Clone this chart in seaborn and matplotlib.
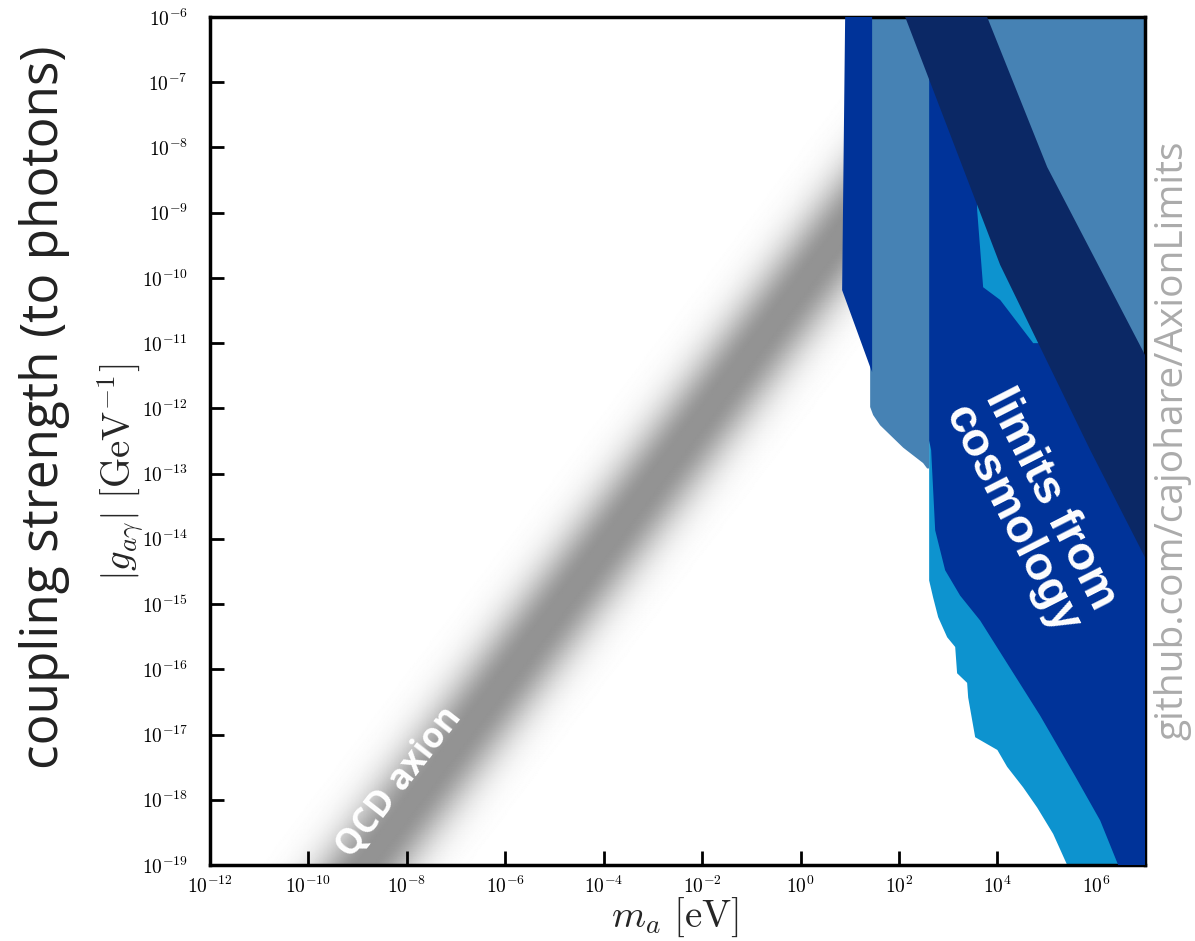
import numpy as np
import matplotlib
matplotlib.use("Agg")
import matplotlib.pyplot as plt
from matplotlib.colors import LinearSegmentedColormap
from matplotlib.ticker import FixedLocator, FuncFormatter, NullLocator
import seaborn as sns

sns.set_theme(style="white")
plt.rcParams["font.family"] = ["Open Sans", "DejaVu Sans"]
plt.rcParams["mathtext.fontset"] = "cm"

# plot ranges
m_min, m_max = 1e-12, 1e7        # axion mass [eV]
g_min, g_max = 1e-19, 1e-6       # |g_a gamma| [GeV^-1]

# QCD axion line g = C * m, with a soft band around it (widths in decades)
qcd_coeff = 7.1e-11
qcd_core = 0.12
qcd_soft = 0.62

# lower-lying region (light blue)
light_m = [4.11e2, 1e7, 1e7, 2.62e5, 1.36e5, 6.44e4, 3.34e4, 1.58e4, 1.0e4, 3.54e3,
           2.55e3, 2.43e3, 1.52e3, 1.39e3, 9.55e2, 6.27e2, 4.95e2, 4.11e2]
light_g = [1e-6, 1e-6, 1e-19, 1e-19, 3.0e-19, 7.6e-19, 1.55e-18, 3.2e-18, 5.8e-18, 9.1e-18,
           3.7e-17, 6.2e-17, 8.7e-17, 2.2e-16, 3.1e-16, 6.3e-16, 1.26e-15, 2.3e-15]

# steel-blue regions
steel_left_m = [26, 411, 411, 374, 310, 122, 41.5, 29.9, 26]
steel_left_g = [1e-6, 1e-6, 1.2e-13, 1.2e-13, 1.45e-13, 2.5e-13, 5.5e-13, 7.9e-13, 1.05e-12]
steel_right_m = [911, 1e7, 1e7, 8.85e5, 2.9e4]
steel_right_g = [1e-6, 1e-6, 7.9e-14, 7.8e-12, 1.56e-9]

# mid-blue regions
mid_left_m = [8.07, 28.5, 28.5, 26, 7.0]
mid_left_g = [1e-6, 1e-6, 3.6e-12, 4.3e-12, 6.5e-11]
mid_right_m = [411, 3.7e3, 3.88e3, 5.14e3, 1.14e4, 5.35e4, 1.89e5, 1e7, 1e7, 2.85e6,
               1.23e6, 3.81e5, 7.4e4, 1.44e4, 4.47e3, 1.75e3, 869, 545, 451, 411]
mid_right_g = [2.2e-7, 2.2e-7, 1.1e-9, 7.2e-11, 4.6e-11, 1.0e-11, 1.0e-11, 3.9e-14, 1e-19, 1e-19,
               4.8e-19, 2.3e-18, 1.95e-17, 1.38e-16, 5.6e-16, 1.35e-15, 3.3e-15, 1.35e-14, 2.3e-13, 3.2e-13]

# diagonal band (navy)
band_m = [134, 1.14e4, 7.7e5, 1e7, 1e7, 1.03e5, 6.2e3]
band_g = [1e-6, 1.58e-10, 2.3e-13, 5.2e-15, 6.6e-12, 5.0e-9, 1e-6]

col_light = "#0d93cf"
col_steel = "#4682b4"
col_mid = "#003399"
col_navy = "#0b2865"

fig = plt.figure(figsize=(11.95, 9.41), dpi=100)
ax = fig.add_axes([210 / 1195, 76 / 941, 935 / 1195, 848 / 941])
ax.set_xscale("log")
ax.set_yscale("log")
ax.set_xlim(m_min, m_max)
ax.set_ylim(g_min, g_max)

# QCD axion band as a smooth grey gradient
mx = np.logspace(np.log10(m_min), np.log10(m_max), 700)
gy = np.logspace(np.log10(g_min), np.log10(g_max), 500)
MM, GG = np.meshgrid(mx, gy)
u = np.abs(np.log10(GG) - np.log10(qcd_coeff) - np.log10(MM))
prof = np.exp(-0.5 * (np.clip(u - qcd_core, 0, None) / qcd_soft) ** 2)
grey = LinearSegmentedColormap.from_list("qcd", ["#ffffff", "#939393"])
ax.pcolormesh(MM, GG, prof, cmap=grey, vmin=0, vmax=1, shading="gouraud",
              zorder=0, rasterized=True)

ax.fill(light_m, light_g, color=col_light, lw=0, zorder=1)
ax.fill(steel_left_m, steel_left_g, color=col_steel, lw=0, zorder=2)
ax.fill(steel_right_m, steel_right_g, color=col_steel, lw=0, zorder=2)
ax.fill(mid_left_m, mid_left_g, color=col_mid, lw=0, zorder=3)
ax.fill(mid_right_m, mid_right_g, color=col_mid, lw=0, zorder=3)
ax.fill(band_m, band_g, color=col_navy, lw=0, zorder=4)

ax.text(7.2e-9, 1.86e-18, "QCD axion", rotation=52, rotation_mode="anchor",
        ha="center", va="center", color="white", fontsize=25, fontweight="bold",
        family=["Open Sans", "DejaVu Sans"], zorder=6)
ax.text(4.8e4, 2.9e-14, "limits from\ncosmology", rotation=-63, rotation_mode="anchor",
        ha="center", va="center", multialignment="center", color="white", fontsize=34,
        fontweight="bold", family="Liberation Sans", linespacing=1.0, zorder=6)

# ticks
xt = [10.0 ** k for k in range(-12, 7, 2)]
yt = [10.0 ** k for k in range(-19, -5)]
ax.xaxis.set_major_locator(FixedLocator(xt))
ax.yaxis.set_major_locator(FixedLocator(yt))
ax.xaxis.set_minor_locator(NullLocator())
ax.yaxis.set_minor_locator(NullLocator())
fmt = FuncFormatter(lambda v, p: r"$10^{%d}$" % int(round(np.log10(v))))
ax.xaxis.set_major_formatter(fmt)
ax.yaxis.set_major_formatter(fmt)
ax.tick_params(which="major", direction="in", length=10, width=2, colors="black",
               labelsize=14, bottom=True, left=True, top=False, right=False)
ax.tick_params(axis="x", pad=8)
ax.tick_params(axis="y", pad=16)
for sp in ax.spines.values():
    sp.set_linewidth(2.5)
    sp.set_color("black")
ax.grid(False)

ax.set_xlabel(r"$m_a\ [\mathrm{eV}]$", fontsize=28, va="center")
ax.xaxis.set_label_coords(0.497, -0.062)
ax.set_ylabel(r"$|g_{a\gamma}|\ [\mathrm{GeV}^{-1}]$", fontsize=28, va="center")
ax.yaxis.set_label_coords(-0.095, 0.463)

fig.text(45 / 1195, 1 - 407 / 941, "coupling strength (to photons)", rotation=90,
         ha="center", va="center", fontsize=37, color="#222222",
         family=["Open Sans", "DejaVu Sans"])
fig.text(1172 / 1195, 1 - 440 / 941, "github.com/cajohare/AxionLimits", rotation=90,
         ha="center", va="center", fontsize=28, color="#ababab",
         family=["Open Sans", "DejaVu Sans"])

fig.savefig("out.png", dpi=100, facecolor="white")
